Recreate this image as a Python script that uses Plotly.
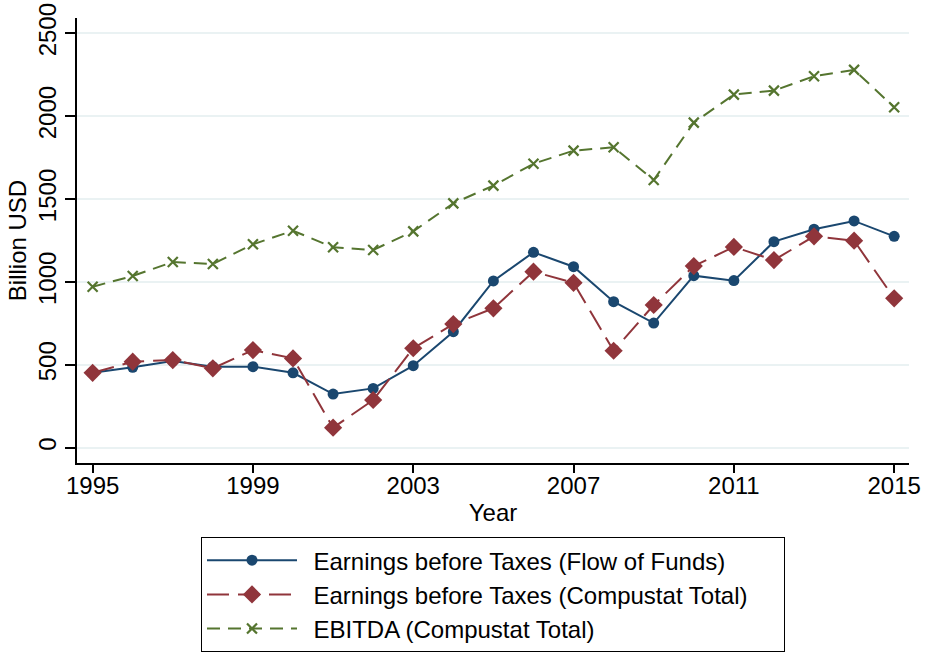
import plotly.graph_objects as go

years = list(range(1995, 2016))
ebt_fof = [452, 485, 523, 489, 489, 452, 324, 358, 495, 700, 1006, 1179, 1092, 881, 752, 1038, 1008, 1243, 1318, 1368, 1275]
ebt_comp = [452, 519, 529, 479, 589, 539, 121, 288, 600, 746, 841, 1062, 995, 585, 861, 1096, 1211, 1132, 1275, 1249, 901]
ebitda = [971, 1036, 1120, 1108, 1227, 1309, 1209, 1193, 1305, 1474, 1581, 1713, 1792, 1812, 1615, 1961, 2130, 2154, 2241, 2279, 2054]

names = ["Earnings before Taxes (Flow of Funds)",
         "Earnings before Taxes (Compustat Total)",
         "EBITDA (Compustat Total)"]
x_ticks = [1995, 1999, 2003, 2007, 2011, 2015]
y_ticks = [0, 500, 1000, 1500, 2000, 2500]

NAVY = "#1a476f"
MAROON = "#90353b"
GREEN = "#55752f"
FONT = "Liberation Sans, Arial, sans-serif"
PAD_L = "&nbsp;&#8201;"
PAD_R = "&nbsp;&nbsp;&nbsp;&nbsp;&#8201;"

fig = go.Figure()
fig.add_trace(go.Scatter(x=years, y=ebt_fof, name=PAD_L + names[0] + PAD_R, mode="lines+markers",
                         line=dict(color=NAVY, width=2),
                         marker=dict(symbol="circle", size=11, color=NAVY)))
fig.add_trace(go.Scatter(x=years, y=ebt_comp, name=PAD_L + names[1] + PAD_R, mode="lines+markers",
                         line=dict(color=MAROON, width=2, dash="22px,9px"),
                         marker=dict(symbol="diamond", size=14, color=MAROON)))
fig.add_trace(go.Scatter(x=years, y=ebitda, name=PAD_L + names[2] + PAD_R, mode="lines+markers",
                         line=dict(color=GREEN, width=2, dash="13px,8px"),
                         marker=dict(symbol="x-thin", size=10, color=GREEN,
                                     line=dict(color=GREEN, width=2.2))))

fig.update_layout(
    width=925, height=653,
    paper_bgcolor="white", plot_bgcolor="white",
    margin=dict(l=77, r=16, t=18, b=190, autoexpand=False),
    font=dict(family=FONT, size=24, color="black"),
    showlegend=True,
    legend=dict(x=0.5, xanchor="center", y=-0.1665, yanchor="top",
                orientation="v", bordercolor="black", borderwidth=1,
                font=dict(size=24), itemwidth=90, tracegroupgap=0),
)
fig.update_xaxes(range=[1994.61, 2015.37], tickmode="array", tickvals=x_ticks,
                 ticktext=[str(t) for t in x_ticks], automargin=False,
                 showline=True, linecolor="black", linewidth=1.5, mirror=False,
                 ticks="outside", ticklen=8, tickwidth=1.5, tickcolor="black",
                 ticklabelstandoff=-8,
                 showgrid=False, zeroline=False,
                 title=dict(text="Year", standoff=7, font=dict(size=24)))
fig.update_yaxes(range=[-92, 2592], tickmode="array", tickvals=y_ticks,
                 ticktext=[str(t) for t in y_ticks], tickangle=-90, automargin=False,
                 showline=True, linecolor="black", linewidth=1.5,
                 ticks="outside", ticklen=10, tickwidth=1.5, tickcolor="black",
                 ticklabelstandoff=0,
                 showgrid=True, gridcolor="#eaf2f3", gridwidth=1.5, zeroline=False,
                 title=dict(text="Billion USD", standoff=0, font=dict(size=24)))

fig.write_html("out.html", config={"displayModeBar": False},
               post_script="document.body.style.margin='0px';")
